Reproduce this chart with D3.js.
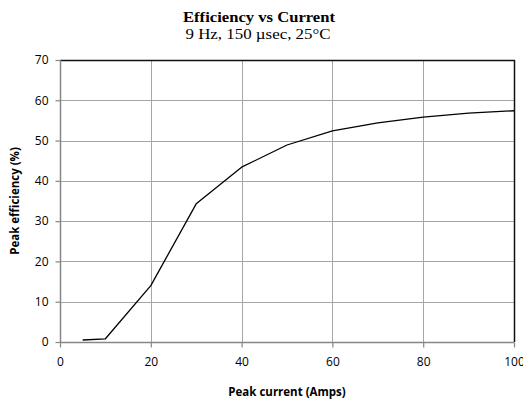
<!DOCTYPE html>
<html>
<head>
<meta charset="utf-8">
<script src="https://cdn.jsdelivr.net/npm/d3@7"></script>
<style>
  html, body { margin: 0; padding: 0; background: #fff; }
  svg { display: block; }
</style>
</head>
<body>
<svg id="chart" width="523" height="402"></svg>
<script>
// Peak current (A) and measured peak efficiency (%)
const currentAmps = [5, 10, 20, 30, 40, 50, 60, 70, 80, 90, 100];
const efficiencyPct = [0.5, 0.8, 14.0, 34.3, 43.4, 48.9, 52.4, 54.4, 55.8, 56.8, 57.4];
const xTicks = [0, 20, 40, 60, 80, 100];
const yTicks = [0, 10, 20, 30, 40, 50, 60, 70];

const titleText = "Efficiency vs Current";
const subtitleText = "9 Hz, 150 \u00b5sec, 25\u00b0C";
const xLabel = "Peak current (Amps)";
const yLabel = "Peak efficiency (%)";

const svg = d3.select("#chart");
const plot = { left: 60, right: 514, top: 60, bottom: 342 };

const x = d3.scaleLinear().domain([0, 100]).range([plot.left, plot.right]);
const y = d3.scaleLinear().domain([0, 70]).range([plot.bottom, plot.top]);

const sansFont = "'Open Sans', 'Liberation Sans', sans-serif";
const serifFont = "'Liberation Serif', 'DejaVu Serif', serif";

// Horizontal gridlines
svg.append("g")
  .selectAll("line")
  .data(yTicks.filter(d => d > 0 && d < 70))
  .join("line")
  .attr("x1", plot.left).attr("x2", plot.right)
  .attr("y1", d => Math.round(y(d)) + 0.5).attr("y2", d => Math.round(y(d)) + 0.5)
  .attr("stroke", "#a6a6a6").attr("stroke-width", 1);

// Vertical gridlines
svg.append("g")
  .selectAll("line")
  .data(xTicks.filter(d => d > 0 && d < 100))
  .join("line")
  .attr("y1", plot.top).attr("y2", plot.bottom)
  .attr("x1", d => Math.round(x(d)) + 0.5).attr("x2", d => Math.round(x(d)) + 0.5)
  .attr("stroke", "#a6a6a6").attr("stroke-width", 1);

// Plot frame: dark top and right edges
svg.append("line")
  .attr("x1", plot.left).attr("x2", plot.right + 1)
  .attr("y1", plot.top + 0.5).attr("y2", plot.top + 0.5)
  .attr("stroke", "#111").attr("stroke-width", 1.3);
svg.append("line")
  .attr("x1", plot.right + 0.5).attr("x2", plot.right + 0.5)
  .attr("y1", plot.top).attr("y2", plot.bottom)
  .attr("stroke", "#111").attr("stroke-width", 1.5);

// Axes
const xAxis = d3.axisBottom(x).tickValues(xTicks).tickSize(5).tickPadding(10);
const yAxis = d3.axisLeft(y).tickValues(yTicks).tickSize(5).tickPadding(7);

const gx = svg.append("g")
  .attr("transform", `translate(0,${Math.round(y(0)) + 0.5})`)
  .call(xAxis);
const gy = svg.append("g")
  .attr("transform", `translate(${plot.left + 0.5},0)`)
  .call(yAxis);

[gx, gy].forEach(g => {
  g.select(".domain").attr("stroke", "#868686").attr("stroke-width", 1.5);
  g.selectAll(".tick line").attr("stroke", "#868686").attr("stroke-width", 1.2);
  g.selectAll(".tick text")
    .attr("fill", "#000")
    .style("font-family", sansFont)
    .style("font-size", "12px");
});
gx.select(".domain").attr("d", `M${plot.left},0H${plot.right}`);
gy.select(".domain").attr("d", `M0,${plot.top}V${Math.round(y(0))}`);

// Efficiency curve
const line = d3.line()
  .x((d, i) => x(currentAmps[i]))
  .y(d => y(d));

svg.append("path")
  .datum(efficiencyPct)
  .attr("d", line)
  .attr("fill", "none")
  .attr("stroke", "#000")
  .attr("stroke-width", 1.3)
  .attr("stroke-linejoin", "round");

// Titles
svg.append("text")
  .attr("x", 259).attr("y", 22)
  .attr("text-anchor", "middle")
  .attr("textLength", 152)
  .attr("lengthAdjust", "spacingAndGlyphs")
  .style("font-family", serifFont)
  .style("font-weight", "bold")
  .style("font-size", "15px")
  .text(titleText);

svg.append("text")
  .attr("x", 258).attr("y", 39)
  .attr("text-anchor", "middle")
  .attr("textLength", 145)
  .attr("lengthAdjust", "spacingAndGlyphs")
  .style("font-family", serifFont)
  .style("font-size", "15px")
  .text(subtitleText);

// Axis titles
svg.append("text")
  .attr("x", 287).attr("y", 396)
  .attr("text-anchor", "middle")
  .style("font-family", sansFont)
  .style("font-weight", "bold")
  .style("font-size", "11.5px")
  .text(xLabel);

svg.append("text")
  .attr("transform", `translate(19,${(plot.top + plot.bottom) / 2}) rotate(-90)`)
  .attr("text-anchor", "middle")
  .style("font-family", sansFont)
  .style("font-weight", "bold")
  .style("font-size", "11.5px")
  .text(yLabel);
</script>
</body>
</html>
